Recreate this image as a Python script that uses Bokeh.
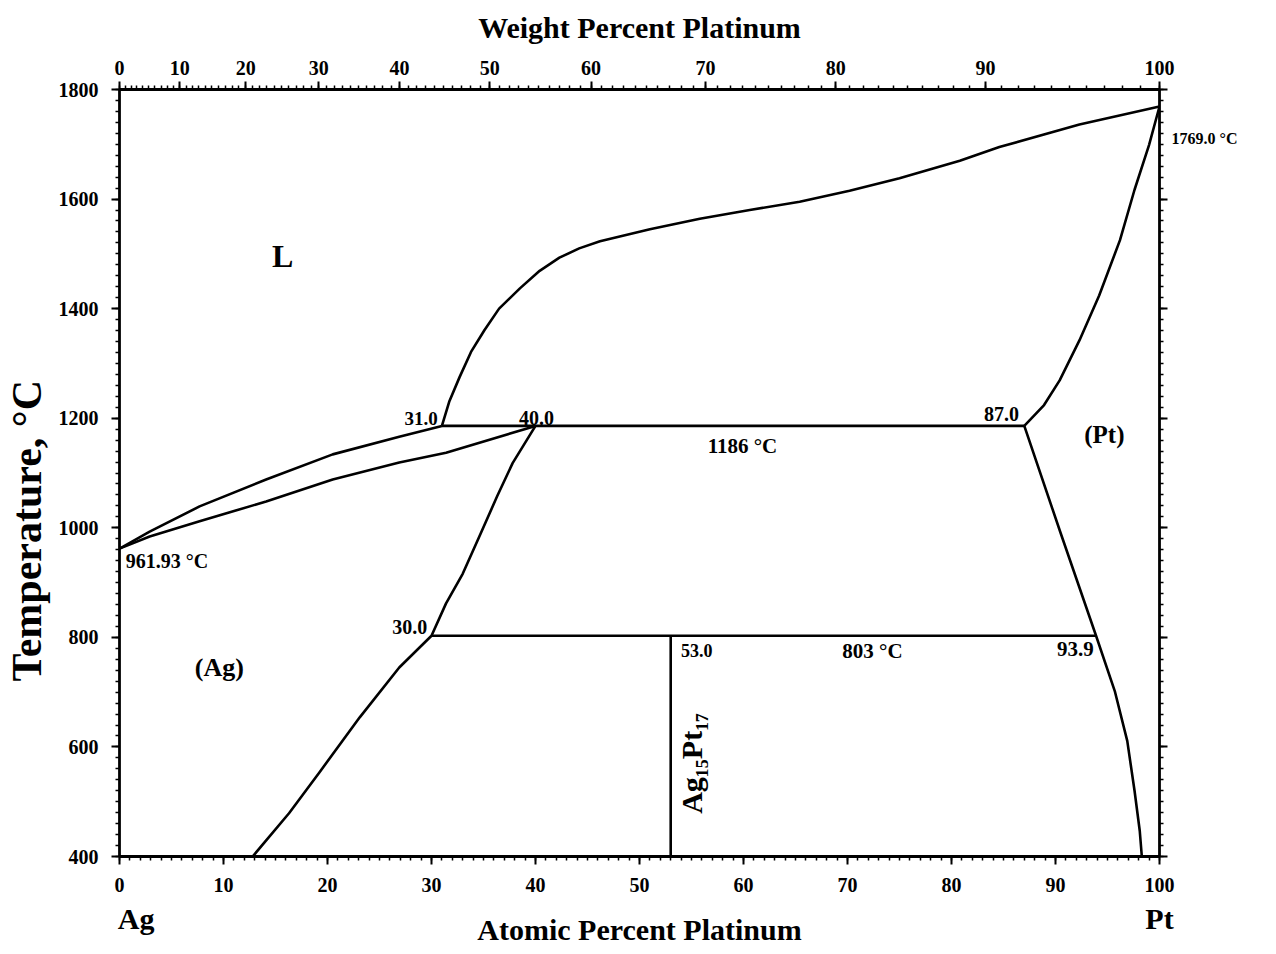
import math
from bokeh.plotting import figure
from bokeh.models import Range1d, LinearAxis, FixedTicker, CustomJSTickFormatter
from bokeh.core.properties import value
from bokeh.embed import file_html
from bokeh.resources import INLINE

# ---------------- data (atomic % Pt, temperature in degC) ----------------
liq_ag_x = [0, 2.9, 7.7, 14.1, 20.5, 26.9, 31.0]
liq_ag_t = [961.93, 993, 1039, 1088, 1134, 1166, 1186]

sol_ag_x = [0, 2.9, 7.7, 14.1, 20.5, 26.9, 31.4, 40.0]
sol_ag_t = [961.93, 984, 1012, 1048, 1088, 1119, 1137, 1186]

liq_pt_x = [31.0, 31.7, 32.7, 33.8, 35.1, 36.5, 38.5, 40.4, 42.3, 44.2, 46.2,
            51.0, 55.8, 60.6, 65.4, 70.2, 75.0, 80.8, 84.6, 92.3, 100]
liq_pt_t = [1186, 1230, 1275, 1321, 1361, 1400, 1437, 1469, 1493, 1510, 1523,
            1545, 1564, 1580, 1595, 1615, 1638, 1670, 1695, 1736, 1769]

sol_pt_x = [87.0, 88.9, 90.4, 92.3, 94.2, 96.2, 97.6, 99.0, 100]
sol_pt_t = [1186, 1224, 1269, 1342, 1424, 1525, 1617, 1699, 1769]

solv_ag_x = [40.0, 37.8, 36.3, 34.6, 33.0, 31.4, 30.0, 26.9, 23.1, 19.2, 16.3, 12.8]
solv_ag_t = [1186, 1118, 1057, 984, 916, 862, 803, 745, 654, 553, 479, 400]

solv_pt_x = [87.0, 90.5, 93.9, 95.7, 96.9, 97.6, 98.1, 98.3]
solv_pt_t = [1186, 990, 803, 702, 611, 520, 447, 400]

peritectic_x = [31.0, 87.0]
peritectic_t = [1186, 1186]
peritectoid_x = [30.0, 93.9]
peritectoid_t = [803, 803]
compound_x = [53.0, 53.0]
compound_t = [803, 400]

# tick labels
at_ticks = list(range(0, 101, 10))
temp_ticks = list(range(400, 1801, 200))
wt_ticks = list(range(0, 101, 10))

M_AG = 107.8682
M_PT = 195.084


def wt_to_at(w):
    if w >= 100:
        return 100.0
    a = w / M_PT
    b = (100 - w) / M_AG
    return 100.0 * a / (a + b)


FONT = value("Liberation Serif")
NBSP = "\u00a0"

W, H = 1272, 950
p = figure(width=W, height=H, output_backend="svg", toolbar_location=None,
           x_range=Range1d(0, 100), y_range=Range1d(400, 1800),
           min_border_left=119, min_border_right=W - 1159,
           min_border_top=89, min_border_bottom=H - 856)
p.grid.visible = False
p.outline_line_color = None
p.background_fill_color = "white"
p.border_fill_color = "white"


def style_axis(ax, label_size="20px"):
    ax.axis_line_width = 2.8
    ax.axis_line_color = "black"
    ax.major_tick_line_width = 2
    ax.minor_tick_line_width = 1.5
    ax.major_tick_out = 8
    ax.major_tick_in = 0
    ax.minor_tick_out = 4
    ax.minor_tick_in = 0
    ax.major_label_text_font = "Liberation Serif"
    ax.major_label_text_font_style = "bold"
    ax.major_label_text_font_size = label_size
    ax.major_label_text_color = "black"
    ax.axis_label_text_font = "Liberation Serif"
    ax.axis_label_text_font_style = "bold"
    ax.axis_label_text_font_size = "30px"
    ax.axis_label_text_color = "black"


def hide_lines(ax):
    ax.axis_line_color = None
    ax.major_tick_line_color = None
    ax.minor_tick_line_color = None
    ax.major_tick_out = 0
    ax.minor_tick_out = 0


# bottom axis (atomic percent)
bx = p.xaxis[0]
bx.ticker = FixedTicker(ticks=at_ticks, minor_ticks=list(range(0, 101)))
style_axis(bx)
bx.major_label_standoff = 13

# second bottom axis: element names + axis title on one row
bx2 = LinearAxis(ticker=FixedTicker(ticks=[1.6, 100], minor_ticks=[]))
style_axis(bx2, label_size="30px")
hide_lines(bx2)
bx2.major_label_overrides = {1.6: "Ag", 100: "Pt"}
bx2.major_label_standoff = 7
bx2.axis_label = "Atomic Percent Platinum"
bx2.axis_label_standoff = -25
p.add_layout(bx2, "below")

# left axis (temperature)
ly = p.yaxis[0]
ly.ticker = FixedTicker(ticks=temp_ticks, minor_ticks=list(range(400, 1801, 20)))
ly.axis_label = "Temperature, °C" + NBSP * 11
style_axis(ly)
ly.axis_label_text_font_size = "42px"
ly.major_label_standoff = 13
ly.axis_label_standoff = 6

# right axis (unlabelled)
ry = LinearAxis(ticker=FixedTicker(ticks=temp_ticks, minor_ticks=list(range(400, 1801, 20))),
                formatter=CustomJSTickFormatter(code="return ''"))
style_axis(ry)
ry.major_label_standoff = 0
p.add_layout(ry, "right")

# second right axis carrying the melting point of Pt
ry2 = LinearAxis(ticker=FixedTicker(ticks=[1710], minor_ticks=[]))
style_axis(ry2, label_size="16px")
hide_lines(ry2)
ry2.major_label_overrides = {1710: "1769.0 °C"}
ry2.major_label_standoff = 4
p.add_layout(ry2, "right")

# top axis (weight percent)
tx = LinearAxis(ticker=FixedTicker(ticks=[wt_to_at(w) for w in wt_ticks],
                                   minor_ticks=[wt_to_at(w) for w in range(0, 101)]))
tx.major_label_overrides = {wt_to_at(w): str(w) for w in wt_ticks}
tx.axis_label = "Weight Percent Platinum"
style_axis(tx)
tx.major_label_standoff = 7
tx.axis_label_standoff = 14
p.add_layout(tx, "above")

# ---------------- phase boundaries ----------------
LW = 2.6
for xs, ts in [(liq_ag_x, liq_ag_t), (sol_ag_x, sol_ag_t), (liq_pt_x, liq_pt_t),
               (sol_pt_x, sol_pt_t), (solv_ag_x, solv_ag_t), (solv_pt_x, solv_pt_t),
               (peritectic_x, peritectic_t), (peritectoid_x, peritectoid_t),
               (compound_x, compound_t)]:
    p.line(xs, ts, line_color="black", line_width=LW, line_join="round")


# ---------------- labels inside ----------------
def txt(x, y, s, size, align="center", baseline="middle", angle=0.0):
    p.text(x=[x], y=[y], text=[s], text_font=FONT, text_font_style="bold",
           text_font_size=size, text_align=align, text_baseline=baseline,
           text_color="black", angle=angle)


txt(15.7, 1497, "L", "32px")
txt(9.6, 745, "(Ag)", "26px")
txt(94.7, 1170, "(Pt)", "25px")
txt(0.6, 940, "961.93 °C", "20px", align="left")
txt(30.6, 1199, "31.0", "19px", align="right")
txt(40.1, 1201, "40.0", "20px")
txt(59.9, 1150, "1186 °C", "21px")
txt(84.8, 1208, "87.0", "20px")
txt(29.6, 818, "30.0", "20px", align="right")
txt(54.0, 776, "53.0", "18px", align="left")
txt(72.4, 776, "803 °C", "21px")
txt(91.9, 779, "93.9", "21px")
txt(55.0, 570, "Ag₁₅Pt₁₇", "30px", angle=math.pi / 2)

open("out.html", "w").write(file_html(p, INLINE))
